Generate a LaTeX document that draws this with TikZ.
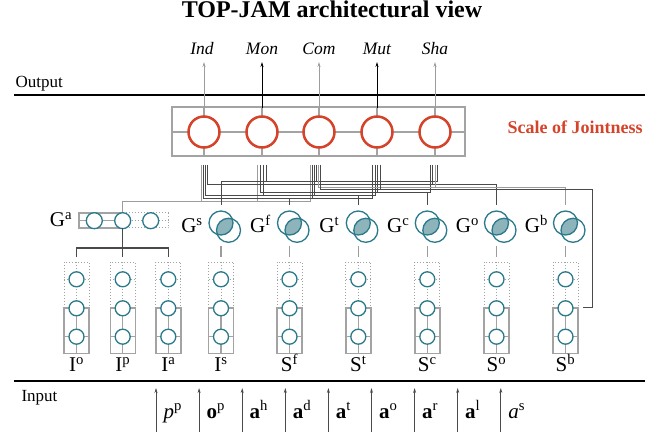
\documentclass[tikz,border=0pt]{standalone}
\usepackage{fontspec}
\setmainfont{Liberation Serif}
\usetikzlibrary{arrows.meta,calc}
\definecolor{tealc}{HTML}{2B7A8B}
\definecolor{tealfill}{HTML}{8DB4BB}
\definecolor{redj}{HTML}{D4432A}
\definecolor{boxgray}{HTML}{A3A3A3}
\definecolor{wdark}{HTML}{4A4A4A}
\definecolor{wlight}{HTML}{9C9C9C}
\begin{document}
\begin{tikzpicture}[x=1pt,y=-1pt,
  titlef/.style={font=\bfseries\fontsize{24}{28}\selectfont},
  outf/.style={font=\itshape\fontsize{17.5}{20}\selectfont},
  sidef/.style={font=\fontsize{17}{20}\selectfont},
  lblf/.style={font=\fontsize{21}{24}\selectfont, anchor=base},
  inf/.style={font=\fontsize{21}{24}\selectfont, anchor=base west},
  redc/.style={circle, draw=redj, line width=2.5pt, fill=white, minimum size=31pt, inner sep=0pt},
  smallc/.style={circle, draw=tealc, line width=1.3pt, fill=white, minimum size=15pt, inner sep=0pt},
  bigc/.style={circle, draw=tealc, line width=1.3pt, minimum size=24pt, inner sep=0pt},
  upar/.style={-{Stealth[length=5pt,width=3pt]}, line width=1pt},
  solidbox/.style={draw=boxgray, line width=1.4pt},
  dotbox/.style={draw=boxgray, line width=1pt, dotted},
  wd/.style={wdark, line width=1pt},
  wl/.style={wlight, line width=1pt},
  stub/.style={wlight, line width=1.2pt},
]
\useasboundingbox (0,0) rectangle (665,438);

% title
\node[titlef, anchor=base] (title) at (332,18) {TOP-JAM architectural view};

% output section
\node[sidef, anchor=base west] (outlbl) at (12,88) {Output};
\draw[line width=2pt] (14,95) -- (645,95);

% scale box
\draw[boxgray, line width=2.7pt] (172,107) rectangle (465,156);
\draw[boxgray, line width=2pt] (172,132) -- (465,132);
\foreach \x in {204,262,319,377,435} \draw[boxgray, line width=2pt] (\x,107) -- (\x,156);
\node[redc] (ind) at (204,132) {};
\node[redc] (mon) at (262,132) {};
\node[redc] (com) at (319,132) {};
\node[redc] (mut) at (377,132) {};
\node[redc] (sha) at (435,132) {};
\node[text=redj, font=\bfseries\fontsize{18}{21}\selectfont, anchor=base west] (soj) at (504,134) {Scale of Jointness};

% output labels and arrows
\node[outf, anchor=base] (lind) at (202,55) {Ind};
\node[outf, anchor=base] (lmon) at (262,55) {Mon};
\node[outf, anchor=base] (lcom) at (319,55) {Com};
\node[outf, anchor=base] (lmut) at (377,55) {Mut};
\node[outf, anchor=base] (lsha) at (435,55) {Sha};
\coordinate (aind) at (204,62);
\coordinate (amon) at (262,62);
\coordinate (acom) at (319,62);
\coordinate (amut) at (377,62);
\coordinate (asha) at (435,62);
\draw[upar, draw=wlight] (204,108) -- (aind);
\draw[upar, draw=black] (262,108) -- (amon);
\draw[upar, draw=wlight] (319,108) -- (acom);
\draw[upar, draw=black] (377,108) -- (amut);
\draw[upar, draw=wlight] (435,108) -- (asha);

% ---------- wiring bus ----------
% Ga
\draw[wl] (122.7,213) -- (122.7,202) -- (310,202);
\foreach \x in {201.5,257.5,310} \draw[wl] (\x,165) -- (\x,202);
% Gf
\draw[wd] (203.3,199) -- (372.7,199);
\foreach \x in {203.3,312,372.7} \draw[wd] (\x,165) -- (\x,199);
\draw[wd] (289.5,199) -- (289.5,205);
% Gt
\draw[wd] (205.3,196) -- (375,196);
\foreach \x in {205.3,263.3,314,375} \draw[wd] (\x,165) -- (\x,196);
\draw[wd] (358.3,196) -- (358.3,205);
% Gc
\draw[wd] (260,193) -- (430,193);
\foreach \x in {260,377.3,430} \draw[wd] (\x,165) -- (\x,193);
\draw[wd] (427.3,193) -- (427.3,205);
% Gs
\draw[wd] (221,205) -- (221,182) -- (437.5,182);
\foreach \x in {266,316,437.5} \draw[wd] (\x,165) -- (\x,182);
% Go
\draw[wd] (207.3,185) -- (496.5,185) -- (496.5,205);
\foreach \x in {207.3,432.5} \draw[wd] (\x,165) -- (\x,185);
% Gb
\draw[wl] (318,187.5) -- (565.5,187.5) -- (565.5,205);
\foreach \x in {318,435} \draw[wl] (\x,165) -- (\x,187.5);
% Sb side wire
\draw[wd] (320,189.5) -- (592,189.5) -- (592,308) -- (583,308);
\foreach \x in {320,380} \draw[wd] (\x,165) -- (\x,189.5);

% ---------- G^a group ----------
\node[lblf] (lga) at (61,227) {G\textsuperscript{a}};
\draw[solidbox] (79,213) rectangle (122.7,228);
\draw[solidbox] (79,220.7) -- (122.7,220.7);
\draw[solidbox] (94.3,213) -- (94.3,228);
\draw[dotbox] (122.7,213) rectangle (168.3,228);
\draw[dotbox] (122.7,220.7) -- (168.3,220.7);
\draw[dotbox] (150.7,213) -- (150.7,228);
\node[smallc, minimum size=16pt] (ga1) at (94.3,220.7) {};
\node[smallc, minimum size=16pt] (ga2) at (122.7,220.7) {};
\node[smallc, minimum size=16pt] (ga3) at (150.7,220.7) {};
\draw[wdark, line width=1.2pt] (ga2.south |- 0,228) -- (122.7,257);
\draw[wdark, line width=1.2pt] (76.5,257) -- (76.5,248) -- (168.3,248) -- (168.3,257);

% ---------- G nodes with two circles ----------
\foreach \cx/\nm/\sup in {221/gs/s, 289.5/gf/f, 358.3/gt/t, 427.3/gc/c, 496.5/go/o, 565.5/gb/b}{
  \begin{scope}
    \clip (\cx,223) circle (12pt);
    \fill[tealfill] (\cx+7.5,230.3) circle (12pt);
  \end{scope}
  \node[bigc] (\nm a) at (\cx,223) {};
  \node[bigc] (\nm b) at (\cx+7.5,230.3) {};
  \node[lblf] (\nm l) at (\cx-29,233) {G\textsuperscript{\sup}};
  \draw[stub] (\cx,246) -- (\cx,257);
}

% ---------- columns ----------
\foreach \cx/\nm/\lb in {76.5/io/I\textsuperscript{o}, 122.7/ip/I\textsuperscript{p}, 168.3/ia/I\textsuperscript{a}, 221/is/I\textsuperscript{s}, 289.5/sf/S\textsuperscript{f}, 358.3/st/S\textsuperscript{t}, 427.3/sc/S\textsuperscript{c}, 496.5/so/S\textsuperscript{o}, 565.5/sb/S\textsuperscript{b}}{
  \draw[dotbox] (\cx-12.5,262.5) rectangle (\cx+12.5,308);
  \draw[dotbox] (\cx-12.5,279.3) -- (\cx+12.5,279.3);
  \draw[dotbox] (\cx,262.5) -- (\cx,308);
  \draw[solidbox] (\cx-12.5,308) rectangle (\cx+12.5,353.3);
  \draw[solidbox] (\cx-12.5,336.7) -- (\cx+12.5,336.7);
  \draw[solidbox] (\cx,308) -- (\cx,353.3);
  \node[smallc] (\nm1) at (\cx,279.3) {};
  \node[smallc] (\nm2) at (\cx,308.3) {};
  \node[smallc] (\nm3) at (\cx,336.7) {};
  \node[lblf] (\nm l) at (\cx,372) {\lb};
}

% ---------- input ----------
\draw[line width=2pt] (14,381.5) -- (645,381.5);
\node[sidef, anchor=base west] (inlbl) at (18,402) {Input};
\foreach \i/\lb in {0/\textit{p}\textsuperscript{p}, 1/\textbf{o}\textsuperscript{p}, 2/\textbf{a}\textsuperscript{h}, 3/\textbf{a}\textsuperscript{d}, 4/\textbf{a}\textsuperscript{t}, 5/\textbf{a}\textsuperscript{o}, 6/\textbf{a}\textsuperscript{r}, 7/\textbf{a}\textsuperscript{l}, 8/\textit{a}\textsuperscript{s}}{
  \coordinate (inb\i) at (156+43.1*\i,432);
  \coordinate (int\i) at (156+43.1*\i,388);
  \draw[upar, draw=wdark] (inb\i) -- (int\i);
  \node[inf] (inl\i) at (160+43.1*\i,418.5) {\lb};
}
\end{tikzpicture}
\end{document}
